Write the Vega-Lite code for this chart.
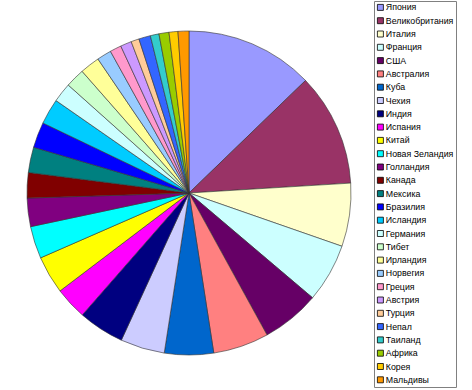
{
  "$schema": "https://vega.github.io/schema/vega-lite/v6.json",
  "width": 378,
  "height": 386,
  "padding": 0,
  "background": "white",
  "view": {"stroke": null},
  "config": {"font": "Liberation Sans"},
  "data": {
    "values": [
      {"i": 1, "country": "Япония", "value": 46.0},
      {"i": 2, "country": "Великобритания", "value": 40.5},
      {"i": 3, "country": "Италия", "value": 22.7},
      {"i": 4, "country": "Франция", "value": 21.1},
      {"i": 5, "country": "США", "value": 20.9},
      {"i": 6, "country": "Австралия", "value": 20.0},
      {"i": 7, "country": "Куба", "value": 17.6},
      {"i": 8, "country": "Чехия", "value": 15.9},
      {"i": 9, "country": "Индия", "value": 16.5},
      {"i": 10, "country": "Испания", "value": 11.6},
      {"i": 11, "country": "Китай", "value": 13.6},
      {"i": 12, "country": "Новая Зеландия", "value": 11.6},
      {"i": 13, "country": "Голландия", "value": 10.2},
      {"i": 14, "country": "Канада", "value": 9.1},
      {"i": 15, "country": "Мексика", "value": 9.1},
      {"i": 16, "country": "Бразилия", "value": 9.2},
      {"i": 17, "country": "Исландия", "value": 9.2},
      {"i": 18, "country": "Германия", "value": 7.0},
      {"i": 19, "country": "Тибет", "value": 6.9},
      {"i": 20, "country": "Ирландия", "value": 7.1},
      {"i": 21, "country": "Норвегия", "value": 5.2},
      {"i": 22, "country": "Греция", "value": 4.1},
      {"i": 23, "country": "Австрия", "value": 4.0},
      {"i": 24, "country": "Турция", "value": 2.9},
      {"i": 25, "country": "Непал", "value": 4.2},
      {"i": 26, "country": "Таиланд", "value": 3.1},
      {"i": 27, "country": "Африка", "value": 3.6},
      {"i": 28, "country": "Корея", "value": 3.2},
      {"i": 29, "country": "Мальдивы", "value": 3.9}
    ]
  },
  "mark": {"type": "arc", "radius": 162, "stroke": "#333333", "strokeWidth": 0.6},
  "encoding": {
    "theta": {"field": "value", "type": "quantitative", "stack": true},
    "order": {"field": "i", "type": "quantitative"},
    "color": {
      "field": "country",
      "type": "nominal",
      "scale": {
        "domain": ["Япония", "Великобритания", "Италия", "Франция", "США", "Австралия", "Куба", "Чехия", "Индия", "Испания", "Китай", "Новая Зеландия", "Голландия", "Канада", "Мексика", "Бразилия", "Исландия", "Германия", "Тибет", "Ирландия", "Норвегия", "Греция", "Австрия", "Турция", "Непал", "Таиланд", "Африка", "Корея", "Мальдивы"],
        "range": ["#9999FF", "#993366", "#FFFFCC", "#CCFFFF", "#660066", "#FF8080", "#0066CC", "#CCCCFF", "#000080", "#FF00FF", "#FFFF00", "#00FFFF", "#800080", "#800000", "#008080", "#0000FF", "#00CCFF", "#CCFFFF", "#CCFFCC", "#FFFF99", "#99CCFF", "#FF99CC", "#CC99FF", "#FFCC99", "#3366FF", "#33CCCC", "#99CC00", "#FFCC00", "#FF9900"]
      },
      "legend": {
        "title": null,
        "orient": "none",
        "legendX": 374,
        "legendY": 1,
        "strokeColor": "#808080",
        "fillColor": "white",
        "padding": 2,
        "symbolType": "square",
        "symbolSize": 36,
        "symbolStrokeColor": "#000000",
        "symbolStrokeWidth": 0.8,
        "symbolOpacity": 1,
        "labelFontSize": 8.8,
        "labelColor": "#000000",
        "labelLimit": 200,
        "labelOffset": 1,
        "rowPadding": 2.3
      }
    }
  }
}
